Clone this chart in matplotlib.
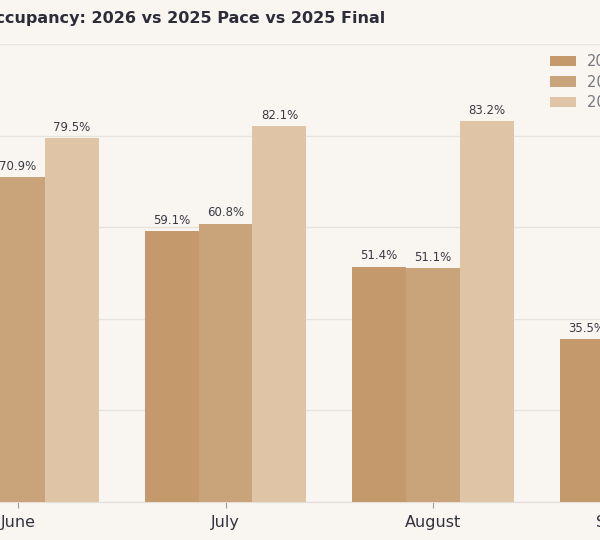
import numpy as np
import matplotlib.pyplot as plt

months = ["June", "July", "August", "September"]
occ_2026 = [66.0, 59.1, 51.4, 35.5]
occ_2025_pace = [70.9, 60.8, 51.1, 40.2]
occ_2025_final = [79.5, 82.1, 83.2, 68.4]
series_names = ["2026", "2025 Pace", "2025 Final"]
colors = ["#C4996C", "#C9A47A", "#E0C4A6"]

bg = "#F9F6F2"
fig = plt.figure(figsize=(6, 5.4), dpi=100, facecolor=bg)

# the plot runs past the right edge of the figure (cropped view)
x0, x1 = -18 / 207.5, 3.5
ax = fig.add_axes([0, 1 - 502 / 540, (x1 - x0) * 207.5 / 600, (502 - 44) / 540])
ax.set_facecolor(bg)

x = np.arange(len(months))
w = 0.26
for i, (vals, name) in enumerate(zip([occ_2026, occ_2025_pace, occ_2025_final], series_names)):
    bars = ax.bar(x + (i - 1) * w, vals, w, color=colors[i], label=name, zorder=3)
    ax.bar_label(bars, labels=[f"{v:.1f}%" for v in vals], padding=3,
                 fontsize=8.5, color="#3a3a44")

ax.set_xticks(x)
ax.set_xticklabels(months, fontsize=11.5, color="#33333f")
ax.set_xlim(x0, x1)
ax.set_ylim(0, 100)
ax.set_yticks(range(0, 101, 20))
ax.grid(axis="y", color="#E9E3DD", linewidth=1, zorder=0)
ax.tick_params(axis="x", length=4, color="#999999", pad=5)
ax.tick_params(axis="y", length=0, labelleft=False)
for s in ["top", "left", "right"]:
    ax.spines[s].set_visible(False)
ax.spines["bottom"].set_color("#E4DED8")

fig.text(-0.03, 1 - 18 / 540, "Occupancy: 2026 vs 2025 Pace vs 2025 Final",
         fontsize=11.5, fontweight="bold", color="#2d2d3a", va="center", ha="left")

fig.legend(loc="upper left", bbox_to_anchor=(550 / 600, 1 - 54 / 540), frameon=False,
           borderpad=0, borderaxespad=0, fontsize=10.5, handlelength=1.8,
           handleheight=0.7, handletextpad=0.75, labelspacing=0.38, labelcolor="#77777f")

fig.savefig("out.png", facecolor=bg)
